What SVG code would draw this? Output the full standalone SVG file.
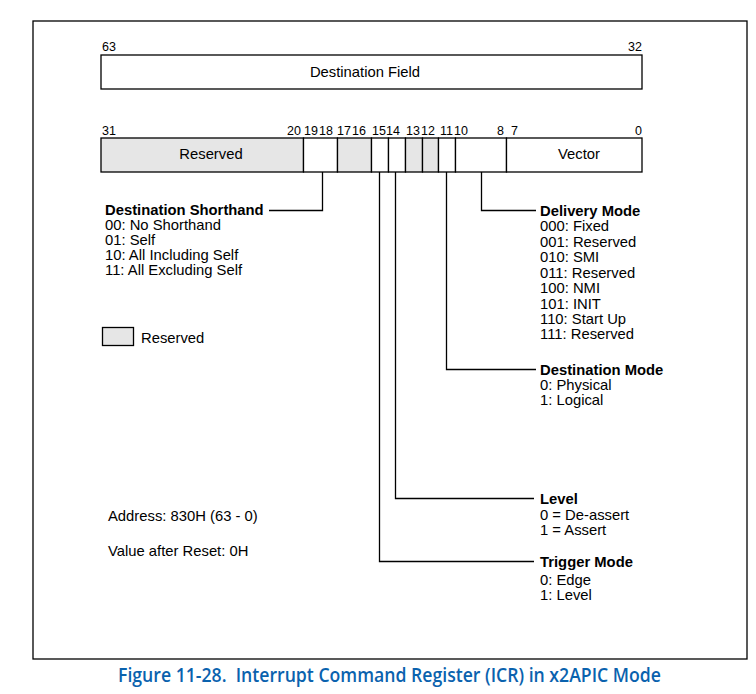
<svg xmlns="http://www.w3.org/2000/svg" width="756" height="694" viewBox="0 0 756 694">
<style>
text{font-family:"Liberation Sans",Arial,sans-serif;fill:#000}
.t{font-size:14.8px}
.b{font-size:14.8px;font-weight:bold}
.n{font-size:12.5px}
.box{fill:#fff;stroke:#000;stroke-width:1.3}
.res{fill:#e6e6e6;stroke:#000;stroke-width:1.3}
.ln{fill:none;stroke:#000;stroke-width:1.3}
.cap{font-family:"Open Sans","Liberation Sans",sans-serif;font-size:19px;font-weight:600;fill:#0a62ae}
</style>
<rect x="0" y="0" width="756" height="694" fill="#fff"/>
<rect id="frame" x="33" y="21" width="714" height="638" class="box"/>
<g id="upper">
<text class="n" x="102" y="51">63</text>
<text class="n" x="642" y="51" text-anchor="end">32</text>
<rect x="101" y="55" width="541" height="34" class="box"/>
<text class="t" x="365" y="77" text-anchor="middle">Destination Field</text>
</g>
<g id="lower">
<g class="n">
<text x="102" y="135">31</text>
<text x="287" y="135">20</text>
<text x="304" y="135">19</text>
<text x="319" y="135">18</text>
<text x="337" y="135">17</text>
<text x="352" y="135">16</text>
<text x="372" y="135">15</text>
<text x="386" y="135">14</text>
<text x="406" y="135">13</text>
<text x="421" y="135">12</text>
<text x="440" y="135">11</text>
<text x="454" y="135">10</text>
<text x="497" y="135">8</text>
<text x="511" y="135">7</text>
<text x="635" y="135">0</text>
</g>
<rect x="101" y="138" width="202.5" height="34" class="res"/>
<rect x="303.5" y="138" width="34" height="34" class="box"/>
<rect x="337.5" y="138" width="34" height="34" class="res"/>
<rect x="371.5" y="138" width="17" height="34" class="box"/>
<rect x="388.5" y="138" width="17" height="34" class="box"/>
<rect x="405.5" y="138" width="17" height="34" class="res"/>
<rect x="422.5" y="138" width="16" height="34" class="res"/>
<rect x="438.5" y="138" width="17" height="34" class="box"/>
<rect x="455.5" y="138" width="51" height="34" class="box"/>
<rect x="506.5" y="138" width="135.5" height="34" class="box"/>
<text class="t" x="211" y="159" text-anchor="middle">Reserved</text>
<text class="t" x="579" y="159" text-anchor="middle">Vector</text>
</g>
<g id="connectors">
<polyline class="ln" points="322.5,172 322.5,210.5 269,210.5"/>
<polyline class="ln" points="481.5,172 481.5,210.5 536,210.5"/>
<polyline class="ln" points="446.5,172 446.5,369.5 536,369.5"/>
<polyline class="ln" points="395.5,172 395.5,498.5 534,498.5"/>
<polyline class="ln" points="379.5,172 379.5,561.5 534,561.5"/>
</g>
<g id="shorthand">
<text class="b" x="105" y="215">Destination Shorthand</text>
<text class="t" x="105" y="230">00: No Shorthand</text>
<text class="t" x="105" y="245">01: Self</text>
<text class="t" x="105" y="260">10: All Including Self</text>
<text class="t" x="105" y="275">11: All Excluding Self</text>
</g>
<g id="legend">
<rect x="102.5" y="327.5" width="31" height="18" class="res"/>
<text class="t" x="141" y="343">Reserved</text>
</g>
<g id="delivery">
<text class="b" x="540" y="216">Delivery Mode</text>
<text class="t" x="540" y="231">000: Fixed</text>
<text class="t" x="540" y="247">001: Reserved</text>
<text class="t" x="540" y="262">010: SMI</text>
<text class="t" x="540" y="278">011: Reserved</text>
<text class="t" x="540" y="293">100: NMI</text>
<text class="t" x="540" y="309">101: INIT</text>
<text class="t" x="540" y="324">110: Start Up</text>
<text class="t" x="540" y="339">111: Reserved</text>
</g>
<g id="destmode">
<text class="b" x="540" y="375">Destination Mode</text>
<text class="t" x="540" y="390">0: Physical</text>
<text class="t" x="540" y="405">1: Logical</text>
</g>
<g id="level">
<text class="b" x="540" y="504">Level</text>
<text class="t" x="540" y="520">0 = De-assert</text>
<text class="t" x="540" y="535">1 = Assert</text>
</g>
<g id="trigger">
<text class="b" x="540" y="567">Trigger Mode</text>
<text class="t" x="540" y="585">0: Edge</text>
<text class="t" x="540" y="600">1: Level</text>
</g>
<g id="info">
<text class="t" x="108" y="521">Address: 830H (63 - 0)</text>
<text class="t" x="108" y="556">Value after Reset: 0H</text>
</g>
<text class="cap" x="118" y="682" textLength="543" lengthAdjust="spacingAndGlyphs" xml:space="preserve">Figure 11-28.  Interrupt Command Register (ICR) in x2APIC Mode</text>
</svg>
